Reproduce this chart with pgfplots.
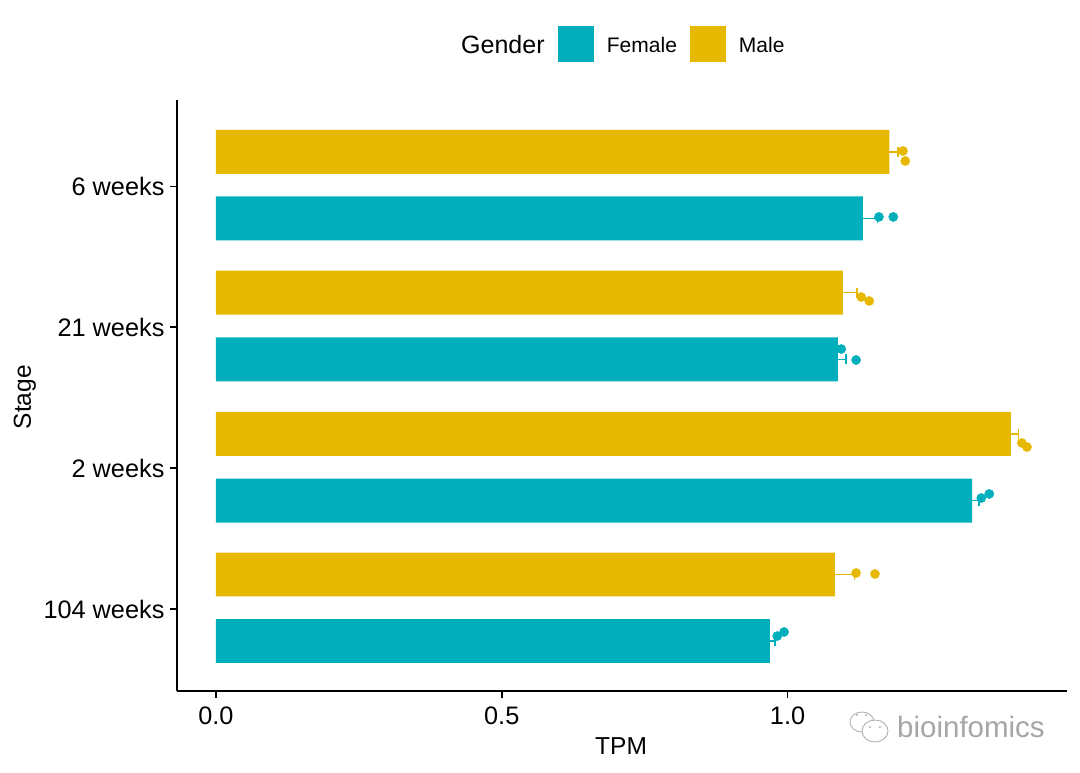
\documentclass[border=0pt]{standalone}
\usepackage{fontspec}
\setmainfont{Liberation Sans}
\usepackage{pgfplots}
\pgfplotsset{compat=1.18}
\definecolor{tealc}{HTML}{00AFBB}
\definecolor{yellowc}{HTML}{E7B800}
\newcommand{\fs}[1]{\fontsize{#1}{#1}\selectfont}
\begin{document}
\begin{tikzpicture}
\path[use as bounding box] (0pt,0pt) rectangle (1080pt,772pt);
\begin{axis}[
  at={(177pt,81pt)}, anchor=south west,
  scale only axis, width=890pt, height=591pt,
  xmin=-0.0682, xmax=1.489, ymin=-0.582, ymax=3.614,
  axis lines=left, axis line style={-, line width=1.8pt, black},
  tick style={line width=1.8pt, black},
  tick align=outside, major tick length=7pt,
  xtick={0,0.5,1}, ytick={0,1,2,3},
  yticklabels={104 weeks,2 weeks,21 weeks,6 weeks},
  minor tick num=0,
  tick label style={font=\fs{25.3}},
  yticklabel style={xshift=-2pt},
  xticklabel style={yshift=-5pt, /pgf/number format/.cd, fixed, fixed zerofill, precision=1, assume math mode=true},
  xtick pos=lower, ytick pos=left,
  xlabel={TPM}, ylabel={Stage},
  xlabel style={font=\fs{24.5}, at={(axis description cs:0.499,-0.093)}, anchor=center},
  ylabel style={font=\fs{24.5}, at={(axis description cs:-0.171,0.497)}, anchor=center},
  legend style={at={(axis description cs:0.428,1.0947)}, anchor=west, draw=none, fill=none,
    legend columns=-1, inner sep=0pt, outer sep=0pt, column sep=13pt,
    nodes={inner sep=0pt, font=\fs{21}}},
  legend image code/.code={\fill[#1,draw=none] (0pt,-16pt) rectangle (36pt,20pt);},
  clip=false,
]
\addplot[xbar, bar width=0.312, bar shift=0pt, fill=tealc, draw=none,
  error bars/.cd, x dir=plus, x explicit,
  error bar style={draw=tealc, line width=1.5pt},
  error mark options={rotate=90, draw=tealc, mark size=5pt, line width=1.5pt}]
  coordinates {
  (0.969,-0.227) +- (0.009,0)
  (1.323,0.770) +- (0.012,0)
  (1.088,1.772) +- (0.014,0)
  (1.132,2.773) +- (0.025,0)};
\addlegendentry{Female}
\addplot[xbar, bar width=0.312, bar shift=0pt, fill=yellowc, draw=none,
  error bars/.cd, x dir=plus, x explicit,
  error bar style={draw=yellowc, line width=1.5pt},
  error mark options={rotate=90, draw=yellowc, mark size=5pt, line width=1.5pt}]
  coordinates {
  (1.083,0.245) +- (0.034,0)
  (1.391,1.243) +- (0.013,0)
  (1.097,2.247) +- (0.025,0)
  (1.178,3.245) +- (0.015,0)};
\addlegendentry{Male}
\addplot[forget plot, only marks, mark=*, mark size=4.6pt, tealc, mark options={draw=none, fill=tealc}]
  coordinates {
  (0.982,-0.192) (0.994,-0.163)
  (1.339,0.788) (1.353,0.817)
  (1.094,1.846) (1.120,1.768)
  (1.160,2.784) (1.185,2.784)};
\addplot[forget plot, only marks, mark=*, mark size=4.6pt, yellowc, mark options={draw=none, fill=yellowc}]
  coordinates {
  (1.120,0.256) (1.153,0.249)
  (1.410,1.179) (1.419,1.150)
  (1.129,2.215) (1.143,2.187)
  (1.202,3.252) (1.206,3.181)};
\end{axis}
\node[anchor=west, inner sep=0pt, font=\fs{25}] at (461pt,727pt) {Gender};
% watermark
\node[anchor=west, inner sep=0pt, font=\fs{29.5}, text=black!35] at (897pt,45pt) {bioinfomics};
\begin{scope}[draw=black!30, line width=0.9pt]
\draw (862pt,50pt) ellipse (12pt and 10pt);
\draw[fill=white] (875pt,41pt) ellipse (13pt and 11pt);
\fill[black!30] (857pt,57pt) circle (1.2pt) (866pt,57pt) circle (1.2pt);
\fill[black!30] (870pt,45pt) circle (1.2pt) (880pt,45pt) circle (1.2pt);
\end{scope}
\end{tikzpicture}
\end{document}
